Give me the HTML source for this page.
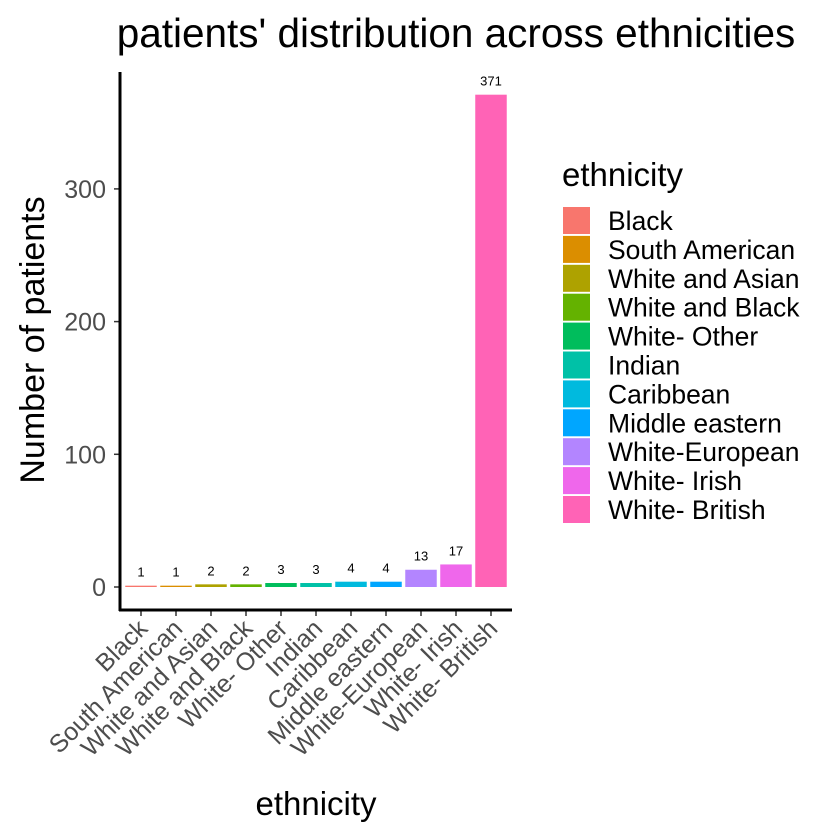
<!DOCTYPE html>
<html><head><meta charset="utf-8"><style>
body{margin:0;background:#fff}
svg{display:block;font-family:"Liberation Sans",sans-serif}
</style></head><body>
<svg id="c" width="840" height="840"></svg>
<script>
const categories=["Black","South American","White and Asian","White and Black","White- Other","Indian","Caribbean","Middle eastern","White-European","White- Irish","White- British"];
const counts=[1,1,2,2,3,3,4,4,13,17,371];
const colors=["#F8766D","#DB8E00","#AEA200","#64B200","#00BD5C","#00C1A7","#00BADE","#00A6FF","#B385FF","#EF67EB","#FF63B6"];
const yTicks=[0,100,200,300];
const NS="http://www.w3.org/2000/svg";
const svg=document.getElementById('c');
function mk(t,a,txt){const e=document.createElementNS(NS,t);for(const k in a)e.setAttribute(k,a[k]);if(txt!=null)e.textContent=txt;svg.appendChild(e);return e;}
const x0=120,x1=512,y0=587,pxPer=1.327;
const step=(x1-x0)/11.2;
const X=i=>x0+(0.6+i)*step;
const Y=v=>y0-v*pxPer;
let e;
e=mk('text',{x:456,y:47,'font-size':40.5,'text-anchor':'middle',fill:'#000'},"patients' distribution across ethnicities");

categories.forEach((c,i)=>{
 const bw=step*0.9;
 e=mk('rect',{x:X(i)-bw/2,y:Y(counts[i]),width:bw,height:counts[i]*pxPer,fill:colors[i]});
 
 e=mk('text',{x:X(i),y:Y(counts[i])-9,'font-size':13,'text-anchor':'middle',fill:'#000'},counts[i]);
 
 e=mk('line',{x1:X(i),x2:X(i),y1:610,y2:616,stroke:'#333','stroke-width':1.5});
 
 e=mk('text',{x:0,y:0,'font-size':25,'text-anchor':'end',fill:'#4d4d4d',transform:`translate(${X(i)+8},${630}) rotate(-45)`},c);
 
});
yTicks.forEach(t=>{
 e=mk('line',{x1:114,x2:120,y1:Y(t),y2:Y(t),stroke:'#333','stroke-width':1.5});
 
 e=mk('text',{x:106,y:Y(t)+9,'font-size':25,'text-anchor':'end',fill:'#4d4d4d'},t);
 
});
e=mk('line',{x1:120,x2:120,y1:72,y2:611,stroke:'#000','stroke-width':3});

e=mk('line',{x1:119,x2:512,y1:610,y2:610,stroke:'#000','stroke-width':3});

e=mk('text',{x:0,y:0,'font-size':34,'text-anchor':'middle',fill:'#000',transform:'translate(44,340) rotate(-90)'},'Number of patients');

e=mk('text',{x:316,y:815,'font-size':33,'text-anchor':'middle',fill:'#000'},'ethnicity');

e=mk('text',{x:562,y:186,'font-size':33,fill:'#000'},'ethnicity');

categories.forEach((c,i)=>{
 const ty=207+i*28.9;
 e=mk('rect',{x:563,y:ty,width:27,height:27,fill:colors[i]});
 
 e=mk('text',{x:608,y:ty+23,'font-size':26.5,fill:'#000'},c);
 
});
</script>
</body></html>
